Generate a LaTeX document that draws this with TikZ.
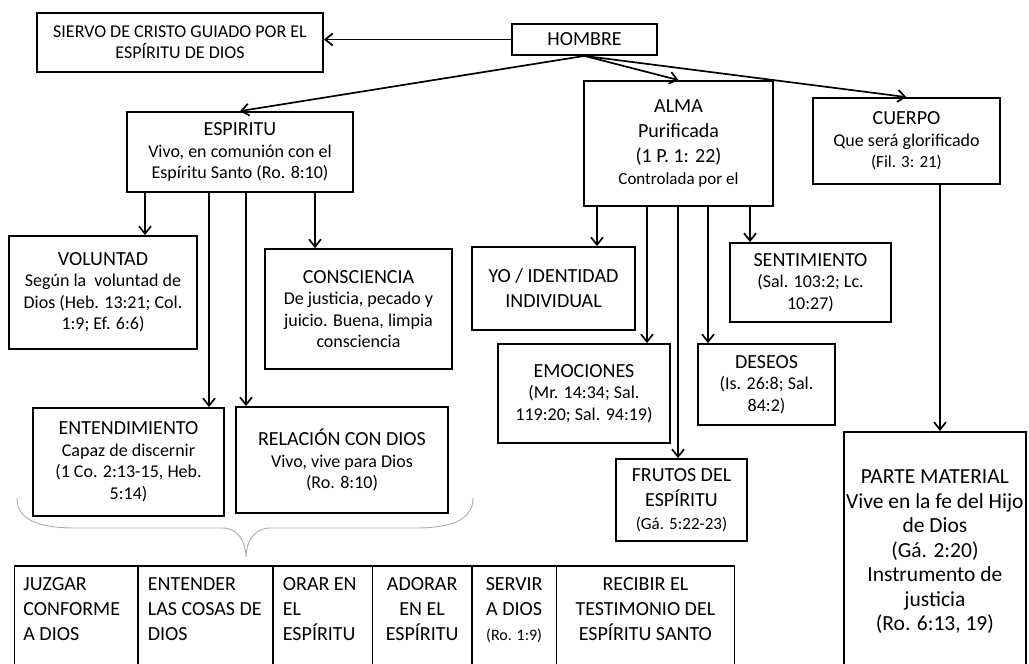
\documentclass[tikz,border=0pt]{standalone}
\usepackage{fontspec}
\setmainfont{Carlito}
\usetikzlibrary{arrows.meta}
\newcommand\Hf{\fontsize{20}{25}\selectfont}
\newcommand\Bf{\fontsize{18}{21.5}\selectfont}
\newcommand\Sf{\fontsize{17}{21}\selectfont}
\newcommand\cellL[3]{\parbox[t][120pt][t]{#1}{\Hf\leftskip=#2\rightskip=0pt plus 1fil\rule{0pt}{25pt}#3}}
\newcommand\cellC[2]{\parbox[t][120pt][t]{#1}{\Hf\centering\rule{0pt}{25pt}#2}}
\begin{document}
\begin{tikzpicture}[x=1pt,y=-1pt,
  bx/.style={draw, line width=1.8pt, inner sep=0pt, align=center, font=\Bf},
  bxt/.style={draw, line width=1.8pt, inner sep=0pt, anchor=north west},
  arr/.style={line width=1.7pt, -{Straight Barb[length=7.5pt,width=12pt,line width=1.7pt]}},
  brace/.style={draw=black!32, line width=0.9pt}]
\useasboundingbox (0,0) rectangle (1029,664);
\clip (0,0) rectangle (1029,664);

% top
\node[bx, minimum width=286pt, minimum height=59pt, font=\fontsize{18}{21}\selectfont] (siervo) at (180,42.5)
  {SIERVO DE CRISTO GUIADO POR EL\\ESPÍRITU DE DIOS};
\node[bx, minimum width=145pt, minimum height=31pt, font=\Hf] (hombre) at (584.5,39.5) {HOMBRE};

\node[bx, minimum width=226pt, minimum height=80pt] (espiritu) at (240,152)
  {{\Hf ESPIRITU}\\Vivo, en comunión con el\\Espíritu Santo (Ro. 8:10)};
\node[bx, minimum width=189pt, minimum height=125pt, font=\Hf] (alma) at (678.5,143.5)
  {ALMA\\Purificada\\(1 P. 1: 22)\\[-3pt]{\Sf Controlada por el}};
\node[bx, minimum width=187pt, minimum height=86pt] (cuerpo) at (906.5,141)
  {{\Hf CUERPO}\\Que será glorificado\\{\Sf (Fil. 3: 21)}};

% espiritu children
\node[bx, minimum width=188pt, minimum height=113pt] (voluntad) at (103,292.5)
  {{\Hf VOLUNTAD}\\Según la\ \ voluntad de\\Dios (Heb. 13:21; Col.\\1:9; Ef. 6:6)};
\node[bx, minimum width=187pt, minimum height=120pt] (consciencia) at (358.5,309)
  {{\Hf CONSCIENCIA}\\De justicia, pecado y\\juicio. Buena, limpia\\consciencia};
\node[bx, minimum width=191pt, minimum height=108pt] (entendimiento) at (128.5,462)
  {{\Hf ENTENDIMIENTO}\\Capaz de discernir\\(1 Co. 2:13-15, Heb.\\5:14)};
\node[bx, minimum width=212pt, minimum height=106pt] (relacion) at (342,460)
  {{\Hf RELACIÓN CON DIOS}\\Vivo, vive para Dios\\(Ro. 8:10)};

% alma children
\node[bx, minimum width=163pt, minimum height=83pt, font=\Hf] (yo) at (553.5,288.5)
  {YO / IDENTIDAD\\INDIVIDUAL};
\node[bx, minimum width=161pt, minimum height=79pt] (sentimiento) at (810.5,282.5)
  {{\Hf SENTIMIENTO}\\(Sal. 103:2; Lc.\\10:27)};
\node[bx, minimum width=172pt, minimum height=99pt] (emociones) at (584,393.5)
  {{\Hf EMOCIONES}\\(Mr. 14:34; Sal.\\119:20; Sal. 94:19)};
\node[bx, minimum width=137pt, minimum height=81pt] (deseos) at (766.5,384.5)
  {{\Hf DESEOS}\\(Is. 26:8; Sal.\\84:2)};
\node[bx, minimum width=131pt, minimum height=82pt, font=\Hf] (frutos) at (681.5,500)
  {FRUTOS DEL\\ESPÍRITU\\[-2pt]{\Sf (Gá. 5:22-23)}};

% cuerpo child
\node[bxt] (parte) at (843,431)
  {\parbox[t][260pt][t]{182pt}{\centering\fontsize{21.5}{24.5}\selectfont\rule{0pt}{52pt}PARTE MATERIAL\\Vive en la fe del Hijo\\de Dios\\(Gá. 2:20)\\Instrumento de\\justicia\\(Ro. 6:13, 19)}\hspace{30pt}};

% bottom row
\node[bxt] (juzgar) at (13.5,565) {\cellL{123.5pt}{9pt}{JUZGAR\\CONFORME\\A DIOS}};
\node[bxt] (entender) at (137,565) {\cellL{135pt}{10pt}{ENTENDER\\LAS COSAS DE\\DIOS}};
\node[bxt] (orar) at (272,565) {\cellL{99.5pt}{10pt}{ORAR EN\\EL\\ESPÍRITU}};
\node[bxt] (adorar) at (371.5,565) {\cellC{99.5pt}{ADORAR\\EN EL\\ESPÍRITU}};
\node[bxt] (servir) at (471,565) {\cellC{84.5pt}{SERVIR\\A DIOS\\{\fontsize{16}{25}\selectfont (Ro. 1:9)}}};
\node[bxt] (recibir) at (555.5,565) {\cellC{178pt}{RECIBIR EL\\TESTIMONIO DEL\\ESPÍRITU SANTO}};

% connectors
\draw[arr] (hombre.west) -- (hombre.west -| siervo.east);
\draw[arr] (hombre.south) -- (espiritu.north);
\draw[arr] (hombre.south) -- (alma.north);
\draw[arr] (hombre.south) -- (cuerpo.north);

\draw[arr] (145,0 |- espiritu.south) -- (145,0 |- voluntad.north);
\draw[arr] (209,0 |- espiritu.south) -- (209,0 |- entendimiento.north);
\draw[arr] (246,0 |- espiritu.south) -- (246,0 |- relacion.north);
\draw[arr] (315,0 |- espiritu.south) -- (315,0 |- consciencia.north);

\draw[arr] (597,0 |- alma.south) -- (597,0 |- yo.north);
\draw[arr] (647,0 |- alma.south) -- (647,0 |- emociones.north);
\draw[arr] (678,0 |- alma.south) -- (678,0 |- frutos.north);
\draw[arr] (708,0 |- alma.south) -- (708,0 |- deseos.north);
\draw[arr] (750,0 |- alma.south) -- (750,0 |- sentimiento.north);

\draw[arr] (940,0 |- cuerpo.south) -- (940,0 |- parte.north);

% brace
\draw[brace] (17,498) .. controls (17,518) and (35,528) .. (75,528) -- (222,528)
  .. controls (238,528) and (246,542) .. (246,557)
  .. controls (246,542) and (254,528) .. (270,528) -- (415,528)
  .. controls (455,528) and (473,518) .. (473,498);
\end{tikzpicture}
\end{document}
